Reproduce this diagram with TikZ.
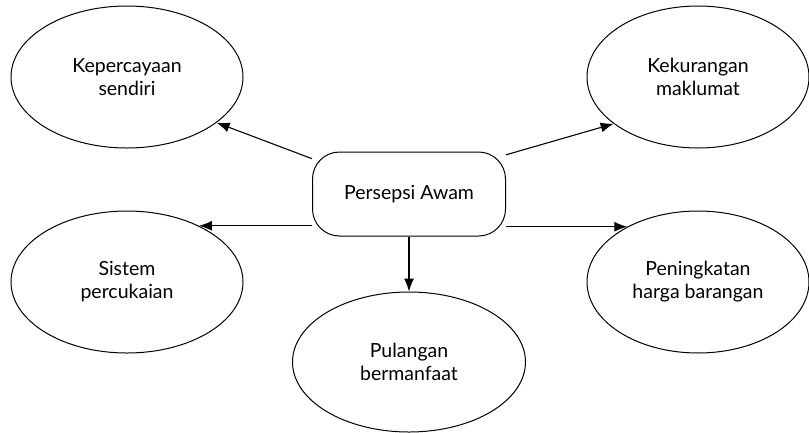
\documentclass[tikz,border=0pt]{standalone}
\usepackage{fontspec}
\setmainfont{Lato}
\usepackage{tikz}
\usetikzlibrary{arrows.meta,shapes.geometric,calc}

\begin{document}
\begin{tikzpicture}[x=1pt,y=-1pt,font=\fontsize{19.5}{23}\selectfont,
  idea/.style={draw,ellipse,line width=1pt,inner sep=0pt,minimum width=232pt,minimum height=142pt,align=center},
  pusat/.style={draw,rounded corners=27pt,line width=1pt,minimum width=193pt,minimum height=84pt},
  panah/.style={line width=1.1pt,-{Latex[length=13pt,width=10pt]}}]
\useasboundingbox (0,0) rectangle (809,432);
\node[pusat] (awam) at (409,194) {Persepsi Awam};
\node[idea] (kepercayaan) at (127,77) {Kepercayaan\\sendiri};
\node[idea,minimum width=222pt] (kekurangan) at (698,77) {Kekurangan\\maklumat};
\node[idea] (sistem) at (127,282) {Sistem\\percukaian};
\node[idea,minimum width=233pt,minimum height=140pt] (pulangan) at (409,362) {Pulangan\\bermanfaat};
\node[idea,minimum width=222pt] (peningkatan) at (698,282) {Peningkatan\\harga barangan};
\draw[panah] (awam.160) -- (kepercayaan.-27);
\draw[panah] (awam.22) -- (kekurangan.-151);
\draw[panah] (awam.west |- sistem.38) -- (sistem.38);
\draw[panah] (awam.east |- peningkatan.142) -- (peningkatan.142);
\draw[panah] (awam) -- (pulangan);
\end{tikzpicture}
\end{document}
